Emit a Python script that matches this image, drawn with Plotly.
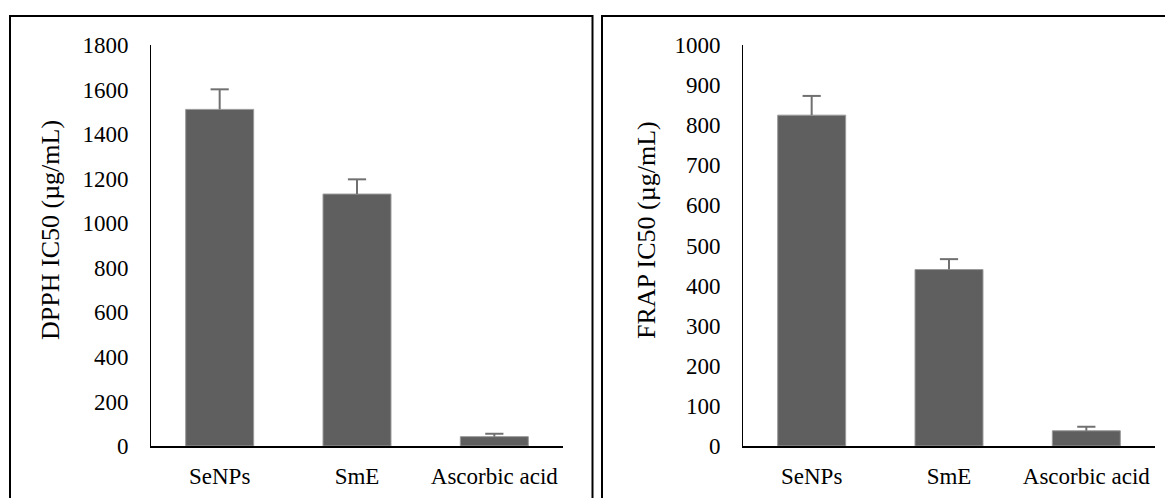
import plotly.graph_objects as go

categories = ["SeNPs", "SmE", "Ascorbic acid"]
dpph_values = [1511, 1131, 42]
dpph_errors = [90, 66, 13]
frap_values = [825, 440, 38]
frap_errors = [48, 26, 10]
dpph_ticks = list(range(0, 1801, 200))
frap_ticks = list(range(0, 1001, 100))

W, H = 1173, 498
OFF = 8  # page body margin
FONT = "Liberation Serif"
BAR = "#5f5f5f"
ERR = "#707070"

def px(x):
    return (x - OFF) / W

def py(y):
    return (H - (y - OFF)) / H

fig = go.Figure()

for vals, errs, xa, ya in [(dpph_values, dpph_errors, "x", "y"),
                           (frap_values, frap_errors, "x2", "y2")]:
    fig.add_trace(go.Bar(
        x=categories, y=vals, xaxis=xa, yaxis=ya,
        marker=dict(color=BAR, line=dict(color="#9a9a9a", width=1)),
        error_y=dict(type="data", array=errs, arrayminus=[0] * len(errs),
                     symmetric=False, color=ERR, thickness=2, width=0),
        showlegend=False, hoverinfo="skip",
    ))
    # caps of the plus-only error bars
    fig.add_trace(go.Scatter(
        x=categories, y=[v + e for v, e in zip(vals, errs)],
        xaxis=xa, yaxis=ya, mode="markers",
        marker=dict(symbol="line-ew", size=13,
                    line=dict(color=ERR, width=2)),
        showlegend=False, hoverinfo="skip",
    ))

axis_common = dict(showgrid=False, zeroline=False, ticks="", automargin=False,
                   tickfont=dict(family=FONT, size=23, color="black"))

fig.update_layout(
    template="none",
    width=W, height=H,
    margin=dict(l=0, r=0, t=0, b=0, pad=0),
    paper_bgcolor="white", plot_bgcolor="white",
    bargap=0.505,
    font=dict(family=FONT, color="black"),
    xaxis=dict(domain=[px(151), px(563)], anchor="y", showline=True,
               linecolor="black", linewidth=1.5, ticklabelstandoff=9,
               **axis_common),
    yaxis=dict(domain=[py(446), py(45)], anchor="x", range=[0, 1800],
               tickvals=dpph_ticks, showline=True, linecolor="black",
               linewidth=1, ticklabelstandoff=17, **axis_common),
    xaxis2=dict(domain=[px(743), px(1155)], anchor="y2", showline=True,
                linecolor="black", linewidth=1.5, ticklabelstandoff=9,
                **axis_common),
    yaxis2=dict(domain=[py(446), py(45)], anchor="x2", range=[0, 1000],
                tickvals=frap_ticks, showline=True, linecolor="black",
                linewidth=1, ticklabelstandoff=17, **axis_common),
    shapes=[
        dict(type="rect", xref="paper", yref="paper",
             x0=px(10), x1=px(592.5), y0=py(530), y1=py(16),
             line=dict(color="black", width=2), fillcolor="rgba(0,0,0,0)"),
        dict(type="rect", xref="paper", yref="paper",
             x0=px(602), x1=px(1200), y0=py(530), y1=py(16),
             line=dict(color="black", width=2), fillcolor="rgba(0,0,0,0)"),
    ],
    annotations=[
        dict(text="DPPH IC50 (µg/mL)", xref="paper", yref="paper",
             x=px(50), y=py(230), textangle=-90, showarrow=False,
             xanchor="center", yanchor="middle",
             font=dict(family=FONT, size=26, color="black")),
        dict(text="FRAP IC50 (µg/mL)", xref="paper", yref="paper",
             x=px(646), y=py(230), textangle=-90, showarrow=False,
             xanchor="center", yanchor="middle",
             font=dict(family=FONT, size=26, color="black")),
    ],
)

fig.write_html("out.html")
